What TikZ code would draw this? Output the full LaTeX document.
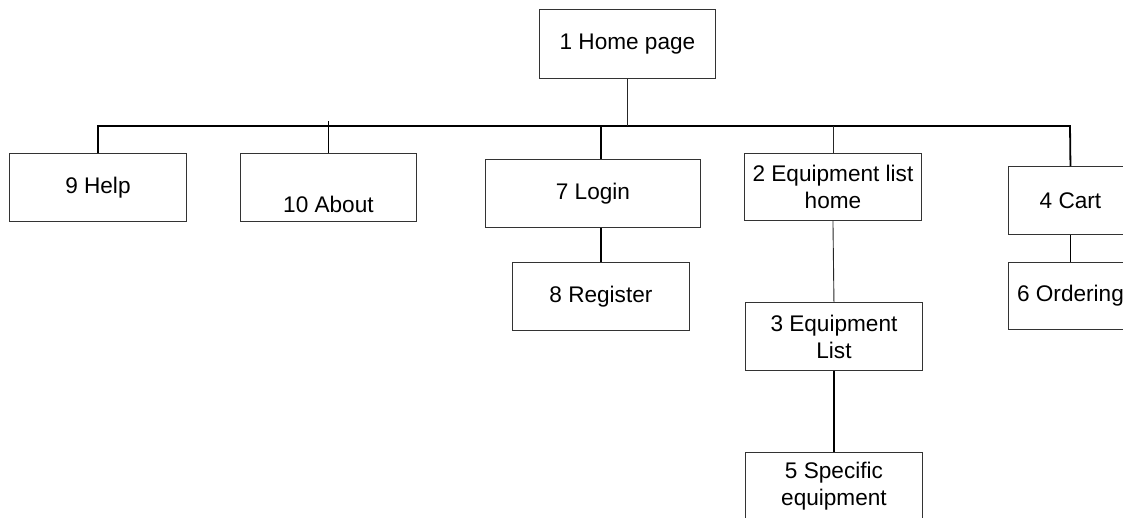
\documentclass[tikz,border=0pt]{standalone}
\usepackage{fontspec}
\setmainfont{Liberation Sans}
\begin{document}
\begin{tikzpicture}[x=1pt,y=-1pt,
  pagebox/.style={draw=black!80, line width=0.9pt, fill=white, anchor=north west,
    inner sep=2pt, align=center, font=\fontsize{22.6}{27}\selectfont},
  thickline/.style={draw=black, line width=1.8pt},
  thinline/.style={draw=black!85, line width=0.9pt}]
\useasboundingbox (0,0) rectangle (1123,517);
\clip (0,0) rectangle (1123,517);
\coordinate (busR) at (1070,126);
\node[pagebox, minimum width=176pt, minimum height=69pt] (home) at (539,9) {1 Home page};
\node[pagebox, minimum width=177pt, minimum height=68pt] (help) at (9,153) {9 Help};
\node[pagebox, minimum width=176pt, minimum height=68pt, text height=50pt] (about) at (240,153) {10 About};
\node[pagebox, minimum width=215pt, minimum height=68pt] (login) at (485,159) {7 Login};
\node[pagebox, minimum width=177pt, minimum height=68pt] (register) at (512,262) {8 Register};
\node[pagebox, minimum width=177pt, minimum height=67pt] (eqhome) at (744,153) {2 Equipment list\\home};
\node[pagebox, minimum width=177pt, minimum height=68pt] (eqlist) at (745,302) {3 Equipment\\List};
\node[pagebox, minimum width=177pt, minimum height=68pt] (specific) at (745,452) {5 Specific\\equipment};
\node[pagebox, minimum width=124pt, minimum height=68pt] (cart) at (1008,166) {4 Cart};
\node[pagebox, minimum width=124pt, minimum height=67pt] (ordering) at (1008,262) {6 Ordering};
% bus
\draw[thickline] (help.north) -- (help.north |- busR) -- (busR) -- (cart.north);
\draw[thinline] (home.south) -- (home.south |- busR);
\draw[thickline] (about.north) -- ([yshift=5pt]about.north |- busR);
\draw[thickline] (register.north |- busR) -- (register.north |- login.north);
\draw[thickline] (register.north |- login.south) -- (register.north);
\draw[thinline] (eqhome.north |- busR) -- (eqhome.north);
\draw[thinline] (eqhome.south) -- (eqlist.north);
\draw[thickline] (eqlist.south) -- (specific.north);
\draw[thickline] (cart.south) -- (ordering.north);
\end{tikzpicture}
\end{document}
